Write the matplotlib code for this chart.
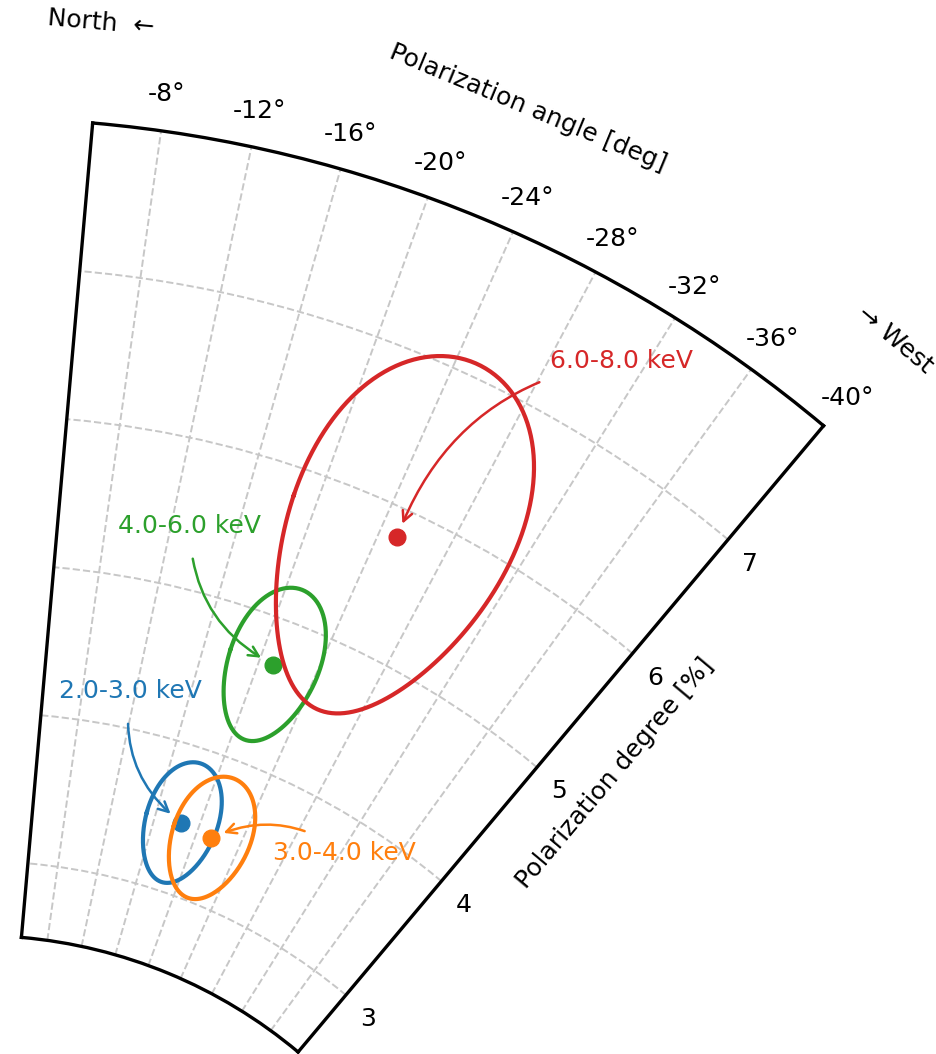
import numpy as np
import matplotlib.pyplot as plt

# polarization per energy band
bands = ['2.0-3.0 keV', '3.0-4.0 keV', '4.0-6.0 keV', '6.0-8.0 keV']
band_colors = ['tab:blue', 'tab:orange', 'tab:green', 'tab:red']
pol_angle = [-18.4, -21.35, -21.0, -25.05]    # deg
pol_degree = [3.48, 3.45, 4.69, 5.81]         # %
angle_err = [3.2, 3.5, 3.15, 6.45]            # deg, contour half-width
degree_err = [0.42, 0.43, 0.54, 1.28]         # %, contour half-height

angle_ticks = [-8, -12, -16, -20, -24, -28, -32, -36, -40]
degree_ticks = [3, 4, 5, 6, 7]

W, H = 937, 1054
fig = plt.figure(figsize=(W / 100, H / 100), dpi=100)
ax = fig.add_axes([-42 / W, 2 / H, 929 / W, 929 / H], projection='polar')
ax.set_theta_zero_location('N')
ax.set_thetamin(-40)
ax.set_thetamax(-5)
ax.set_rlim(2.5, 8)
ax.set_rorigin(-0.85)

ax.set_xticks(np.deg2rad(angle_ticks), [f'{a}°' for a in angle_ticks])
ax.set_yticks(degree_ticks, [str(v) for v in degree_ticks])
ax.tick_params(labelsize=18)
ax.tick_params(axis='x', pad=16)
ax.tick_params(axis='y', pad=10)
ax.grid(True, color='0.78', linestyle='--', linewidth=1.4)
for sp in ax.spines.values():
    sp.set_linewidth(2.4)

# text positions for the band labels (figure fraction)
label_xy = [(130.5 / W, 1 - 691 / H), (344.5 / W, 1 - 853 / H),
            (190 / W, 1 - 526 / H), (621.5 / W, 1 - 361 / H)]

t = np.linspace(0, 2 * np.pi, 300)
for band, c, pa, pd, dpa, dpd, txy in zip(bands, band_colors, pol_angle, pol_degree,
                                          angle_err, degree_err, label_xy):
    ax.plot(np.deg2rad(pa + dpa * np.cos(t)), pd + dpd * np.sin(t), color=c, lw=3)
    ax.plot(np.deg2rad(pa), pd, 'o', color=c, ms=12)
    ax.annotate(band, xy=(np.deg2rad(pa), pd), xytext=txy, textcoords='figure fraction',
                color=c, fontsize=18, ha='center', va='center',
                arrowprops=dict(arrowstyle='->', color=c, lw=1.8, shrinkA=13, shrinkB=10,
                                connectionstyle='arc3,rad=0.3'))

fig.text(528 / W, 1 - 108 / H, 'Polarization angle [deg]', rotation=-22.5,
         ha='center', va='center', rotation_mode='anchor', fontsize=18)
fig.text(615 / W, 1 - 773 / H, 'Polarization degree [%]', rotation=50,
         ha='center', va='center', rotation_mode='anchor', fontsize=18)
fig.text(101 / W, 1 - 23 / H, 'North  ←', rotation=-5,
         ha='center', va='center', rotation_mode='anchor', fontsize=18)
fig.text(895 / W, 1 - 340 / H, '→ West', rotation=-40,
         ha='center', va='center', rotation_mode='anchor', fontsize=18)

fig.savefig('out.png', dpi=100)
